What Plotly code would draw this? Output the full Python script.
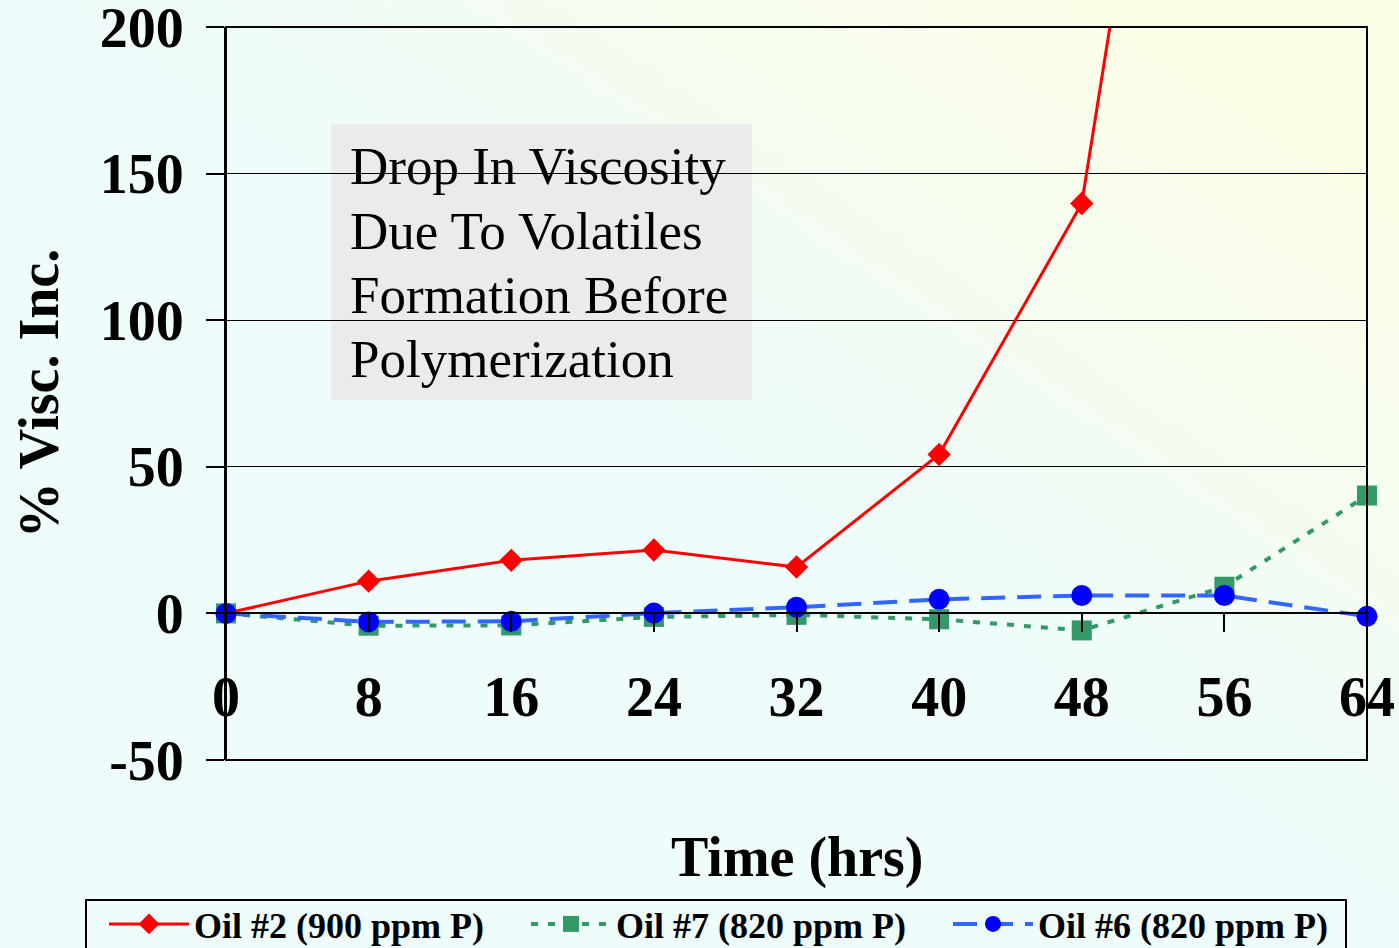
import base64, struct, zlib
import plotly.graph_objects as go

# ---- data ----
hours = [0, 8, 16, 24, 32, 40, 48, 56, 64]
oil2_hours = [0, 8, 16, 24, 32, 40, 48, 56]
oil2 = [0, 11.0, 18.1, 21.6, 15.8, 54.2, 139.8, 445]
oil7 = [0, -4.2, -4.1, -1.2, -0.5, -2.0, -5.8, 9.1, 40.2]
oil6 = [0, -2.9, -2.7, 0.1, 2.1, 4.8, 6.1, 6.1, -1.0]
names = ["Oil #2 (900 ppm P)", "Oil #7 (820 ppm P)", "Oil #6 (820 ppm P)"]
x_ticks = [0, 8, 16, 24, 32, 40, 48, 56, 64]
y_ticks = [-50, 0, 50, 100, 150, 200]
y_tick_text = ["-50", "0", "50", "100", "150", "200"]
note_lines = ["Drop In Viscosity", "Due To Volatiles", "Formation Before", "Polymerization"]

W, H = 1399, 948
L, R, T, B = 226, 32, 27, 188
PW, PH = W - L - R, H - T - B
FONT = "Liberation Serif, Times New Roman, serif"


def px_x(p):
    return (p - L) / PW


def px_y(p):
    return (T + PH - p) / PH


def gradient_png(w=140, h=95):
    c1 = (238, 252, 252)
    c2 = (252, 253, 230)
    raw = b""
    for j in range(h):
        row = b"\x00"
        for i in range(w):
            t = max(0.0, i / (w - 1) + (1 - j / (h - 1)) - 1.0)
            t = min(1.0, t * 1.2)
            row += bytes(int(round(a * (1 - t) + b * t)) for a, b in zip(c1, c2))
        raw += row

    def chunk(tag, data):
        return struct.pack(">I", len(data)) + tag + data + struct.pack(">I", zlib.crc32(tag + data) & 0xffffffff)

    png = b"\x89PNG\r\n\x1a\n" + chunk(b"IHDR", struct.pack(">IIBBBBB", w, h, 8, 2, 0, 0, 0))
    png += chunk(b"IDAT", zlib.compress(raw, 9)) + chunk(b"IEND", b"")
    return "data:image/png;base64," + base64.b64encode(png).decode()


fig = go.Figure()
fig.add_trace(go.Scatter(
    x=oil2_hours, y=oil2, name=names[0], mode="lines+markers",
    line=dict(color="#ff0000", width=3),
    marker=dict(symbol="diamond", size=18, color="#ff0000"),
    cliponaxis=False))
fig.add_trace(go.Scatter(
    x=hours, y=oil7, name=names[1], mode="lines+markers",
    line=dict(color="#339966", width=4, dash="7px,10px"),
    marker=dict(symbol="square", size=20, color="#339966"),
    cliponaxis=False))
fig.add_trace(go.Scatter(
    x=hours, y=oil6, name=names[2], mode="lines+markers",
    line=dict(color="#3366ff", width=4, dash="24px,12px"),
    marker=dict(symbol="circle", size=21, color="#0000ff"),
    cliponaxis=False))

y0_frac = (0 - (-50)) / 250.0

annotations = [
    dict(text=line, xref="paper", yref="paper", x=px_x(348), y=px_y(yc),
         xanchor="left", yanchor="middle", align="left", showarrow=False,
         font=dict(family=FONT, size=53, color="black"))
    for line, yc in zip(note_lines, [166, 231, 295, 359])
]
annotations.append(dict(
    text="Time (hrs)", xref="paper", yref="paper", x=px_x(797), y=px_y(857),
    xanchor="center", yanchor="middle", showarrow=False,
    font=dict(family=FONT, size=56, color="black", weight="bold")))

fig.update_layout(
    width=W, height=H,
    margin=dict(l=L, r=R, t=T, b=B, autoexpand=False),
    paper_bgcolor="#eefcfc",
    plot_bgcolor="#c0c0c0",
    font=dict(family=FONT, color="black"),
    showlegend=True,
    xaxis=dict(
        range=[0, 64], tickvals=x_ticks, ticktext=[str(v) for v in x_ticks],
        anchor="free", position=y0_frac,
        showgrid=False, zeroline=False, showline=True, linecolor="black", linewidth=1.5,
        ticks="outside", ticklen=18, tickcolor="black", tickwidth=1.5,
        tickfont=dict(family=FONT, size=56, color="black", weight="bold"),
        ticklabelstandoff=17, ticklabeloverflow="allow",
    ),
    yaxis=dict(
        range=[-50, 200], tickvals=y_ticks, ticktext=y_tick_text,
        showgrid=True, gridcolor="black", gridwidth=1.2,
        zeroline=True, zerolinecolor="black", zerolinewidth=1.5,
        showline=True, linecolor="black", linewidth=2,
        ticks="outside", ticklen=18, tickcolor="black", tickwidth=1.5,
        tickfont=dict(family=FONT, size=56, color="black", weight="bold"),
        ticklabelstandoff=11, ticklabeloverflow="allow",
        title=dict(text="% Visc. Inc.", font=dict(family=FONT, size=56, color="black", weight="bold"),
                   standoff=23),
    ),
    legend=dict(
        orientation="h", x=px_x(104), xanchor="left", y=px_y(894), yanchor="top",
        bgcolor="rgba(0,0,0,0)", borderwidth=0,
        font=dict(family=FONT, size=36, color="black", weight="bold"),
        itemwidth=80, entrywidth=327, tracegroupgap=0,
    ),
    images=[dict(source=gradient_png(), xref="paper", yref="paper",
                 x=-L / PW, y=1 + T / PH, sizex=W / PW, sizey=H / PH,
                 sizing="stretch", xanchor="left", yanchor="top", layer="below")],
    shapes=[
        dict(type="rect", xref="paper", yref="paper", x0=px_x(331), x1=px_x(752),
             y0=px_y(400), y1=px_y(124),
             fillcolor="#ebebeb", line=dict(width=0), layer="between"),
        dict(type="rect", xref="paper", yref="paper", x0=0, x1=1, y0=0, y1=1,
             line=dict(color="black", width=2), layer="above"),
        dict(type="rect", xref="paper", yref="paper", x0=px_x(86), x1=px_x(1346),
             y0=px_y(965), y1=px_y(900),
             line=dict(color="black", width=2), fillcolor="rgba(0,0,0,0)", layer="above"),
    ],
    annotations=annotations,
)

fig.write_html("out.html", config={"displayModeBar": False})
with open("out.html", encoding="utf-8") as f:
    html = f.read()
html = html.replace("<body>", '<body style="margin:0;overflow:hidden">', 1)
with open("out.html", "w", encoding="utf-8") as f:
    f.write(html)
